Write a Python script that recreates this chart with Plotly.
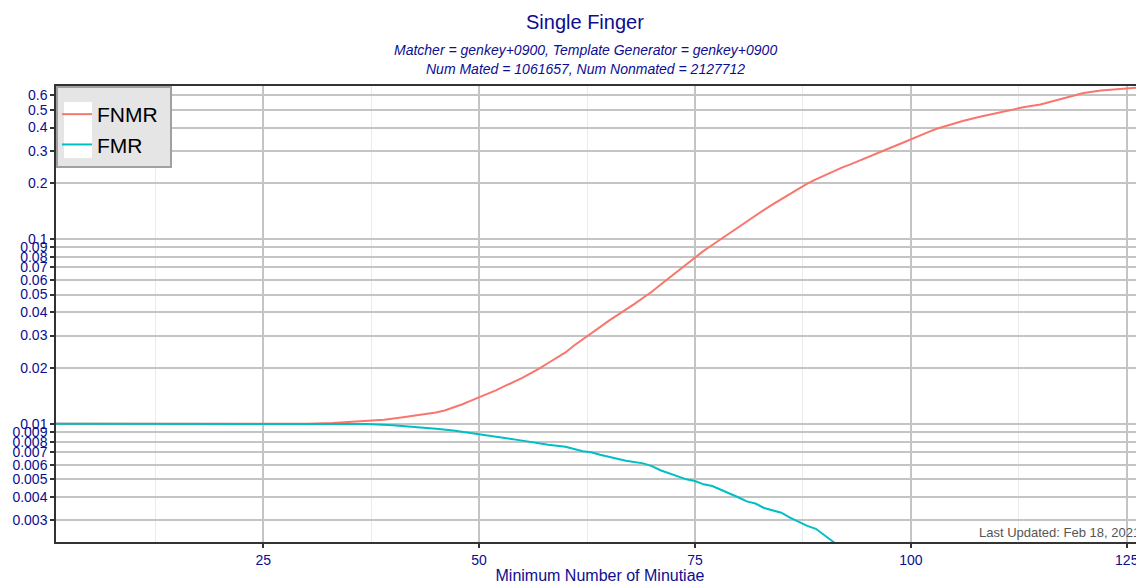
import plotly.graph_objects as go

# Data
fnmr_x = [1, 10, 20, 25, 30, 33, 35, 37, 39, 41, 43, 45, 46, 47, 48, 49, 50, 51, 52, 53, 54, 55, 56, 57,
          58, 59, 60, 61, 62, 63, 64, 65, 66, 67, 68, 69, 70, 71, 72, 73, 74, 75, 76, 77, 78, 79, 80, 81,
          82, 83, 84, 85, 86, 87, 88, 89, 90, 91, 92, 93, 94, 95, 96, 97, 98, 99, 100, 101, 102, 103, 104,
          105, 106, 108, 110, 112, 113, 115, 117, 119, 120, 122, 124, 125, 127]
fnmr_y = [0.01, 0.01, 0.01, 0.01, 0.01, 0.0101, 0.0102, 0.0103, 0.0105, 0.0108, 0.0111, 0.0115, 0.0118,
          0.0122, 0.0127, 0.0133, 0.0139, 0.0145, 0.0152, 0.0160, 0.0168, 0.0177, 0.0188, 0.0199,
          0.0213, 0.0228, 0.0243, 0.0265, 0.0287, 0.031, 0.0333, 0.036, 0.0385, 0.0415, 0.0445, 0.048,
          0.0517, 0.0565, 0.0615, 0.067, 0.0735, 0.080, 0.0861, 0.0927, 0.0998, 0.1075, 0.1157, 0.1245,
          0.134, 0.1435, 0.1535, 0.164, 0.1745, 0.187, 0.199, 0.210, 0.221, 0.232, 0.243, 0.253, 0.265,
          0.277, 0.289, 0.302, 0.316, 0.330, 0.346, 0.362, 0.378, 0.394, 0.408,
          0.421, 0.434, 0.458, 0.480, 0.505, 0.515, 0.533, 0.565, 0.600, 0.616, 0.635,
          0.648, 0.652, 0.662]

fmr_x = [1, 10, 20, 25, 30, 33, 35, 37, 40, 43, 45, 47, 50, 52, 55, 58, 60, 62, 63, 64, 66, 67, 69, 70,
         71, 72, 73, 74, 75, 76, 77, 78, 79, 80, 81, 82, 83, 84, 85, 86, 87, 88, 89, 90, 91, 92]
fmr_y = [0.01, 0.01, 0.01, 0.01, 0.01, 0.01, 0.01, 0.00995, 0.0098, 0.0096, 0.0094, 0.0092, 0.0088,
         0.0085, 0.0081, 0.0077, 0.0075, 0.0071, 0.0070, 0.0068, 0.0065, 0.0063, 0.0061, 0.0059,
         0.0056, 0.0054, 0.0052, 0.0050, 0.0049, 0.0047, 0.0046, 0.0044, 0.0042, 0.0040, 0.0038,
         0.0037, 0.0035, 0.0034, 0.0033, 0.0031, 0.00295, 0.0028, 0.0027, 0.0025, 0.0023, 0.0021]

y_ticks = [0.003, 0.004, 0.005, 0.006, 0.007, 0.008, 0.009, 0.01, 0.02, 0.03, 0.04, 0.05, 0.06,
           0.07, 0.08, 0.09, 0.1, 0.2, 0.3, 0.4, 0.5, 0.6]
y_tick_labels = [str(v) for v in y_ticks]
x_ticks = [25, 50, 75, 100, 125]

title_text = "Single Finger"
subtitle_1 = "Matcher = genkey+0900, Template Generator = genkey+0900"
subtitle_2 = "Num Mated = 1061657, Num Nonmated = 2127712"
updated_text = "Last Updated: Feb 18, 2021"

FONT = "Arial, Liberation Sans, sans-serif"
BLUE = "#0d0d8f"

W, H = 1136, 576
ML, MR, MT, MB = 48, 0, 78, 42
PW = W - ML - MR
PH = H - MT - MB

fig = go.Figure()
fig.add_trace(go.Scatter(x=fnmr_x, y=fnmr_y, mode="lines", name="FNMR",
                         line=dict(color="#F8766D", width=2)))
fig.add_trace(go.Scatter(x=fmr_x, y=fmr_y, mode="lines", name="FMR",
                         line=dict(color="#00BFC4", width=2)))

shapes = [
    # legend box
    dict(type="rect", xref="paper", yref="paper", xsizemode="pixel", ysizemode="pixel",
         xanchor=0, yanchor=1, x0=1, x1=115, y0=-81, y1=-1, layer="above",
         fillcolor="#e5e5e5", line=dict(color="#a0a0a0", width=2)),
    # white key patch
    dict(type="rect", xref="paper", yref="paper", xsizemode="pixel", ysizemode="pixel",
         xanchor=0, yanchor=1, x0=8, x1=36, y0=-72, y1=-16, layer="above",
         fillcolor="white", line=dict(width=0)),
]

fig.update_layout(
    width=W, height=H, autosize=False,
    margin=dict(l=ML, r=MR, t=MT, b=MB),
    paper_bgcolor="white", plot_bgcolor="white",
    font=dict(family=FONT),
    showlegend=True,
    legend=dict(x=0 + 1 / PW, y=1 - 8 / PH, xanchor="left", yanchor="top",
                bgcolor="rgba(0,0,0,0)", borderwidth=0,
                font=dict(size=21, color="black", family=FONT),
                itemwidth=30, tracegroupgap=0),
    shapes=shapes,
    xaxis=dict(
        range=[1, 127], tickvals=x_ticks, ticktext=[str(v) for v in x_ticks],
        showgrid=True, gridcolor="#c4c4c4", gridwidth=2,
        minor=dict(dtick=12.5, tick0=0, showgrid=True, gridcolor="#ebebeb", gridwidth=1, ticks=""),
        showline=True, linecolor="#333333", linewidth=1.5, mirror=True,
        ticks="outside", ticklen=4, tickcolor="#333333", tickwidth=1.5,
        tickfont=dict(size=14, color=BLUE, family=FONT),
        title=dict(text="Minimum Number of Minutiae", font=dict(size=16, color=BLUE, family=FONT),
                   standoff=6),
        zeroline=False,
    ),
    yaxis=dict(
        type="log", range=[-2.64, -0.173],
        tickvals=y_ticks, ticktext=y_tick_labels,
        showgrid=True, gridcolor="#c4c4c4", gridwidth=2,
        showline=True, linecolor="#333333", linewidth=1.5,
        ticks="outside", ticklen=4, tickcolor="#333333", tickwidth=1.5,
        tickfont=dict(size=14, color=BLUE, family=FONT),
        zeroline=False,
    ),
    annotations=[
        dict(text=title_text, xref="paper", yref="paper", x=(577 - ML) / PW, y=1, yshift=64,
             xanchor="center", yanchor="middle", showarrow=False,
             font=dict(size=20, color=BLUE, family=FONT)),
        dict(text=f"<i>{subtitle_1}</i>", xref="paper", yref="paper", x=(577 - ML) / PW, y=1, yshift=36,
             xanchor="center", yanchor="middle", showarrow=False,
             font=dict(size=14, color=BLUE, family=FONT)),
        dict(text=f"<i>{subtitle_2}</i>", xref="paper", yref="paper", x=(577 - ML) / PW, y=1, yshift=17,
             xanchor="center", yanchor="middle", showarrow=False,
             font=dict(size=14, color=BLUE, family=FONT)),
        dict(text=updated_text, xref="paper", yref="paper", x=(1134 - ML) / PW, y=0,
             xanchor="right", yanchor="bottom", showarrow=False,
             font=dict(size=13, color="#555555", family=FONT)),
    ],
)

fig.write_html("out.html")
